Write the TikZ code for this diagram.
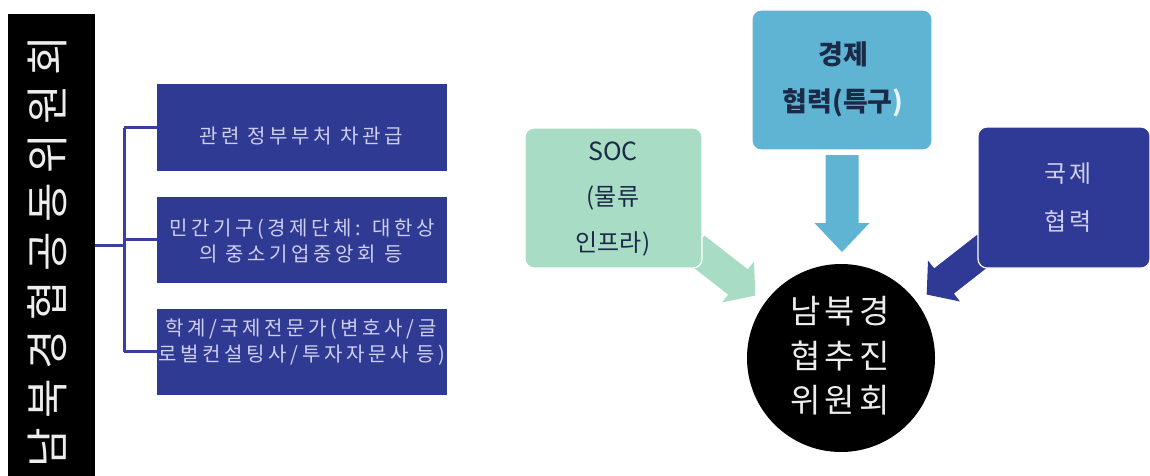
\documentclass[tikz,border=0pt]{standalone}
\usepackage{fontspec}
\setmainfont{Noto Sans CJK KR}
\newfontfamily\kr{Noto Sans CJK KR}
\newfontfamily\krsp[LetterSpace=12]{Noto Sans CJK KR}
\newfontfamily\krleft[LetterSpace=18]{Noto Sans CJK KR}
\newfontfamily\krbar[LetterSpace=22]{Noto Sans CJK KR}
\definecolor{leftblue}{HTML}{2F3A93}
\definecolor{bracketblue}{HTML}{3A3F9E}
\definecolor{socgreen}{HTML}{A9DCC5}
\definecolor{ecoblue}{HTML}{5FB3D3}
\definecolor{intblue}{HTML}{2F3A96}
\definecolor{textnavy}{HTML}{1B2A47}
\definecolor{lavender}{HTML}{CFCFEF}
\definecolor{barwhite}{HTML}{EDEDED}
\tikzset{
  leftbox/.style={fill=leftblue, draw=none, inner sep=0, minimum width=290pt, minimum height=86pt},
  lefttext/.style={anchor=base, inner sep=0, text=lavender, font=\krleft\fontsize{20}{24}\selectfont},
  bracketline/.style={draw=bracketblue, line width=3pt},
  rbox/.style={rounded corners=9pt, draw=white, line width=1.2pt, inner sep=0},
  rtext/.style={anchor=base, inner sep=0},
  hubtext/.style={anchor=base, inner sep=0, text=barwhite, font=\krsp\fontsize{33}{40}\selectfont},
}
\begin{document}
\begin{tikzpicture}[x=1pt,y=-1pt]
\useasboundingbox (0,0) rectangle (1150,476);
\fill[white] (0,0) rectangle (1150,476);

% left black bar
\node[fill=black, inner sep=0, minimum width=87pt, minimum height=462pt] (bar) at (51.5,245) {};
\node[rotate=90, inner sep=0, text=barwhite, font=\krbar\fontsize{43}{50}\selectfont] (bartext) at (47,252) {남북경협공동위원회};

% left boxes
\node[leftbox] (b1) at (302,127.5) {};
\node[leftbox] (b2) at (302,239.5) {};
\node[leftbox] (b3) at (302,351.5) {};
\node[lefttext] (t1) at (301,143) {관련 정부부처 차관급};
\node[lefttext] (t2a) at (302,235) {민간기구(경제단체: 대한상};
\node[lefttext] (t2b) at (301,261) {의 중소기업중앙회 등};
\node[lefttext] (t3a) at (301,335) {학계/국제전문가(변호사/글};
\node[lefttext] (t3b) at (302,361) {로벌컨설팅사/투자자문사 등)};

% bracket
\coordinate (j) at (124,245);
\draw[bracketline] (bar.east) -- (j);
\draw[bracketline] (b1.west -| j) -- (b3.west -| j);
\draw[bracketline] (b1.west -| j) -- (b1.west);
\draw[bracketline] (b2.west -| j) -- (b2.west);
\draw[bracketline] (b3.west -| j) -- (b3.west);

% block arrows
\fill[socgreen, shift={(738,282)}, rotate=-38]
  (-55,-16) -- (0,-16) -- (0,-26) -- (22,0) -- (0,26) -- (0,16) -- (-55,16) -- cycle;
\fill[ecoblue, shift={(842,223)}, rotate=-90]
  (-68,-16.5) -- (0,-16.5) -- (0,-27.5) -- (29,0) -- (0,27.5) -- (0,16.5) -- (-68,16.5) -- cycle;
\fill[intblue, shift={(944,281)}, rotate=-142]
  (-55,-16) -- (0,-16) -- (0,-26) -- (22,0) -- (0,26) -- (0,16) -- (-55,16) -- cycle;

% right boxes
\node[rbox, fill=socgreen, minimum width=177pt, minimum height=140pt] (soc) at (613.5,198) {};
\node[rbox, fill=ecoblue, minimum width=180pt, minimum height=140pt] (eco) at (842,80) {};
\node[rbox, fill=intblue, minimum width=172pt, minimum height=141pt] (intl) at (1064,197.5) {};

\node[rtext, text=textnavy, font=\kr\fontsize{25}{30}\selectfont] (s1) at (613,160) {SOC};
\node[rtext, text=textnavy, font=\kr\fontsize{24}{30}\selectfont] (s2) at (613,205) {(물류};
\node[rtext, text=textnavy, font=\kr\fontsize{24}{30}\selectfont] (s3) at (613,251) {인프라)};

\node[rtext, text=textnavy, font=\kr\bfseries\fontsize{27}{30}\selectfont] (e1) at (843,65) {경제};
\node[rtext, text=textnavy, font=\kr\bfseries\fontsize{27}{30}\selectfont] (e2) at (843,111) {협력(특구\textcolor{white!85!ecoblue}{)}};

\node[rtext, text=lavender, font=\krsp\fontsize{24}{30}\selectfont] (i1) at (1068,182) {국제};
\node[rtext, text=lavender, font=\krsp\fontsize{24}{30}\selectfont] (i2) at (1068,230) {협력};

% hub
\node[circle, fill=black, inner sep=0, minimum size=188pt] (hub) at (841,358) {};
\node[hubtext] (h1) at (840,323) {남북경};
\node[hubtext] (h2) at (840,368) {협추진};
\node[hubtext] (h3) at (840,412) {위원회};
\end{tikzpicture}
\end{document}
